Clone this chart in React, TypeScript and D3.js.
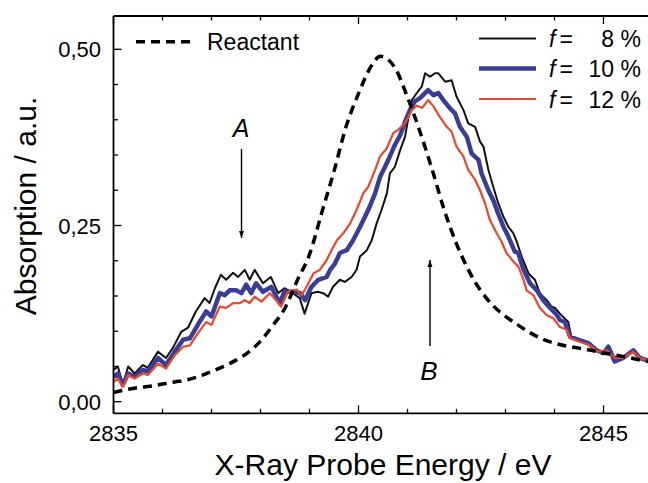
import React from "react";
import * as d3 from "d3";

// ---------- data ----------
const reactantE = [2835.0,2835.25,2835.5,2835.75,2836.0,2836.25,2836.5,2836.75,2837.0,2837.25,2837.5,2837.75,2838.0,2838.25,2838.5,2838.75,2839.0,2839.25,2839.5,2839.75,2840.0,2840.25,2840.45,2840.75,2841.0,2841.25,2841.5,2841.75,2842.0,2842.25,2842.5,2842.75,2843.0,2843.25,2843.5,2843.75,2844.0,2844.25,2844.5,2844.75,2845.0,2845.25,2845.5,2845.75,2846.0];
const reactantY = [0.013,0.017,0.020,0.022,0.025,0.028,0.031,0.036,0.043,0.050,0.059,0.070,0.086,0.108,0.133,0.172,0.209,0.268,0.327,0.391,0.437,0.475,0.490,0.473,0.432,0.384,0.330,0.272,0.224,0.186,0.157,0.136,0.121,0.109,0.098,0.089,0.083,0.079,0.076,0.073,0.069,0.066,0.063,0.059,0.056];

const f8E = [2835.0,2835.09,2835.19,2835.30,2835.43,2835.60,2835.70,2835.91,2836.07,2836.21,2836.38,2836.52,2836.68,2836.86,2836.96,2837.07,2837.19,2837.30,2837.44,2837.54,2837.68,2837.78,2837.88,2838.05,2838.21,2838.36,2838.49,2838.62,2838.80,2838.90,2839.04,2839.17,2839.28,2839.38,2839.48,2839.62,2839.72,2839.86,2839.96,2840.03,2840.17,2840.27,2840.37,2840.47,2840.58,2840.64,2840.74,2840.85,2840.95,2841.02,2841.09,2841.19,2841.29,2841.36,2841.46,2841.56,2841.63,2841.77,2841.90,2842.00,2842.14,2842.24,2842.38,2842.48,2842.55,2842.65,2842.75,2842.85,2842.96,2843.06,2843.16,2843.23,2843.33,2843.47,2843.60,2843.70,2843.84,2843.94,2844.01,2844.11,2844.21,2844.28,2844.35,2844.52,2844.72,2844.86,2845.00,2845.10,2845.20,2845.40,2845.61,2845.74,2845.88,2846.0];
const f8Y = [0.045,0.050,0.024,0.050,0.040,0.052,0.048,0.071,0.062,0.076,0.099,0.105,0.128,0.147,0.140,0.161,0.180,0.173,0.183,0.177,0.187,0.173,0.187,0.168,0.177,0.154,0.161,0.156,0.147,0.125,0.154,0.156,0.154,0.149,0.163,0.173,0.170,0.177,0.187,0.206,0.215,0.229,0.253,0.272,0.296,0.324,0.333,0.357,0.376,0.404,0.428,0.438,0.447,0.466,0.461,0.466,0.466,0.454,0.456,0.433,0.414,0.395,0.390,0.369,0.362,0.329,0.305,0.282,0.262,0.248,0.239,0.227,0.206,0.182,0.173,0.154,0.144,0.135,0.133,0.125,0.118,0.113,0.090,0.088,0.083,0.073,0.071,0.078,0.064,0.062,0.073,0.062,0.059,0.058];

const f10E = [2835.0,2835.09,2835.19,2835.30,2835.43,2835.60,2835.70,2835.91,2836.07,2836.25,2836.42,2836.56,2836.72,2836.89,2837.00,2837.17,2837.27,2837.37,2837.51,2837.61,2837.71,2837.81,2837.91,2838.05,2838.22,2838.39,2838.49,2838.66,2838.81,2838.91,2839.04,2839.18,2839.35,2839.42,2839.52,2839.62,2839.76,2839.89,2840.03,2840.13,2840.23,2840.34,2840.44,2840.54,2840.64,2840.74,2840.85,2840.95,2841.05,2841.15,2841.26,2841.42,2841.53,2841.63,2841.73,2841.87,2841.97,2842.07,2842.21,2842.31,2842.45,2842.51,2842.65,2842.75,2842.85,2842.96,2843.06,2843.19,2843.26,2843.36,2843.50,2843.64,2843.77,2843.91,2844.04,2844.11,2844.21,2844.32,2844.52,2844.69,2844.86,2845.00,2845.10,2845.23,2845.40,2845.61,2845.74,2845.88,2846.0];
const f10Y = [0.035,0.040,0.024,0.040,0.035,0.045,0.043,0.062,0.052,0.071,0.088,0.090,0.109,0.128,0.121,0.154,0.151,0.158,0.158,0.154,0.166,0.154,0.168,0.156,0.163,0.140,0.156,0.156,0.154,0.144,0.163,0.173,0.177,0.187,0.196,0.211,0.215,0.229,0.248,0.262,0.277,0.296,0.319,0.333,0.348,0.364,0.378,0.397,0.414,0.426,0.431,0.442,0.435,0.438,0.428,0.416,0.409,0.390,0.376,0.352,0.343,0.324,0.300,0.286,0.267,0.248,0.234,0.213,0.211,0.189,0.168,0.158,0.144,0.133,0.124,0.116,0.113,0.092,0.087,0.083,0.073,0.069,0.078,0.057,0.062,0.073,0.062,0.059,0.058];

const f12E = [2835.0,2835.09,2835.19,2835.30,2835.43,2835.60,2835.70,2835.91,2836.07,2836.25,2836.42,2836.56,2836.72,2836.89,2837.00,2837.17,2837.30,2837.44,2837.58,2837.68,2837.78,2837.88,2838.02,2838.19,2838.32,2838.42,2838.56,2838.74,2838.84,2838.94,2839.08,2839.21,2839.35,2839.45,2839.56,2839.69,2839.83,2839.96,2840.10,2840.20,2840.34,2840.44,2840.58,2840.71,2840.81,2840.95,2841.09,2841.19,2841.30,2841.42,2841.53,2841.66,2841.80,2841.90,2842.00,2842.14,2842.24,2842.38,2842.48,2842.58,2842.68,2842.82,2842.92,2843.02,2843.16,2843.26,2843.36,2843.43,2843.57,2843.70,2843.84,2843.98,2844.11,2844.25,2844.32,2844.52,2844.72,2844.89,2845.07,2845.23,2845.40,2845.61,2845.74,2845.88,2846.0];
const f12Y = [0.028,0.033,0.021,0.038,0.033,0.040,0.038,0.054,0.047,0.066,0.078,0.080,0.097,0.113,0.109,0.135,0.133,0.140,0.140,0.144,0.140,0.149,0.142,0.154,0.144,0.135,0.156,0.159,0.151,0.163,0.182,0.187,0.201,0.215,0.229,0.239,0.253,0.272,0.296,0.305,0.329,0.348,0.360,0.381,0.386,0.395,0.414,0.420,0.417,0.428,0.419,0.404,0.390,0.383,0.362,0.348,0.329,0.315,0.300,0.282,0.258,0.239,0.227,0.211,0.199,0.192,0.175,0.158,0.151,0.133,0.123,0.118,0.106,0.102,0.090,0.085,0.080,0.071,0.073,0.062,0.062,0.071,0.062,0.059,0.058];

const xMajorTicks = [2835, 2840, 2845];
const xTickLabels = ["2835", "2840", "2845"];
const xMinorTicks = [2836, 2837, 2838, 2839, 2841, 2842, 2843, 2844, 2846];
const yMajorTicks = [0, 0.25, 0.5];
const yTickLabels = ["0,00", "0,25", "0,50"];
const yMinorTicks = [0.05, 0.1, 0.15, 0.2, 0.3, 0.35, 0.4, 0.45];

const legendLabels = ["8 %", "10 %", "12 %"];

// ---------- layout ----------
const W = 648, H = 483;
const left = 113.5, top = 16, bottom = 413.3, right = 660;
const FONT = "'Liberation Sans', Arial, sans-serif";

const x = d3.scaleLinear().domain([2835, 2846]).range([113.5, 652.5]);
const y = d3.scaleLinear().domain([0, 0.5]).range([401.7, 49.3]);

function pts(es: number[], vs: number[]): [number, number][] {
  return es.map((e, i) => [e, vs[i]] as [number, number]);
}
const noisy = d3.line<[number, number]>().x(d => x(d[0])).y(d => y(d[1])).curve(d3.curveLinear);
const smooth = d3.line<[number, number]>().x(d => x(d[0])).y(d => y(d[1])).curve(d3.curveMonotoneX);

const BLACK = "#111111";
const BLUE = "#3a3d98";
const RED = "#e8482c";

export default function App() {
  const series = [
    { d: pts(f8E, f8Y), color: BLACK, w: 2 },
    { d: pts(f10E, f10Y), color: BLUE, w: 4.5 },
    { d: pts(f12E, f12Y), color: RED, w: 2.2 },
  ];
  const legendY = [38.5, 68.5, 99];
  return (
    <svg width={W} height={H} style={{ position: "fixed", left: 0, top: 0, background: "#fff" }} fontFamily={FONT}>
      <defs>
        <clipPath id="plot">
          <rect x={left} y={top} width={right - left} height={bottom - top} />
        </clipPath>
        <marker id="arr" viewBox="0 0 10 10" refX="10" refY="5" markerWidth="7" markerHeight="10" orient="auto" markerUnits="userSpaceOnUse">
          <path d="M0,1.5 L10,5 L0,8.5 Z" fill="#000" />
        </marker>
      </defs>
      <g clipPath="url(#plot)">
        {series.map((s, i) => (
          <path key={i} d={noisy(s.d) || ""} fill="none" stroke={s.color} strokeWidth={s.w} strokeLinejoin="round" />
        ))}
        <path d={smooth(pts(reactantE, reactantY)) || ""} fill="none" stroke="#000" strokeWidth={3.5} strokeDasharray="9,6" />
      </g>

      {/* frame */}
      <line x1={left} x2={right} y1={top} y2={top} stroke="#000" strokeWidth={1.8} />
      <line x1={left} x2={right} y1={bottom} y2={bottom} stroke="#000" strokeWidth={1.8} />
      <line x1={left} x2={left} y1={top} y2={bottom} stroke="#000" strokeWidth={1.8} />

      {/* x ticks */}
      {xMajorTicks.map((t, i) => (
        <g key={"xM" + i}>
          <line x1={x(t)} x2={x(t)} y1={bottom} y2={bottom - 8} stroke="#000" strokeWidth={1.3} />
          <line x1={x(t)} x2={x(t)} y1={top} y2={top + 8} stroke="#000" strokeWidth={1.3} />
          <text x={x(t)} y={441} fontSize={22} textAnchor="middle">{xTickLabels[i]}</text>
        </g>
      ))}
      {xMinorTicks.map((t, i) => (
        <g key={"xm" + i}>
          <line x1={x(t)} x2={x(t)} y1={bottom} y2={bottom - 4.5} stroke="#000" strokeWidth={1.3} />
          <line x1={x(t)} x2={x(t)} y1={top} y2={top + 4.5} stroke="#000" strokeWidth={1.3} />
        </g>
      ))}

      {/* y ticks */}
      {yMajorTicks.map((t, i) => (
        <g key={"yM" + i}>
          <line x1={left} x2={left + 8} y1={y(t)} y2={y(t)} stroke="#000" strokeWidth={1.3} />
          <text x={101} y={y(t) + 8} fontSize={22} textAnchor="end">{yTickLabels[i]}</text>
        </g>
      ))}
      {yMinorTicks.map((t, i) => (
        <line key={"ym" + i} x1={left} x2={left + 4.5} y1={y(t)} y2={y(t)} stroke="#000" strokeWidth={1.3} />
      ))}

      {/* axis titles */}
      <text x={383} y={475} fontSize={30} textAnchor="middle">X-Ray Probe Energy / eV</text>
      <text transform="translate(36,206) rotate(-90)" fontSize={30} textAnchor="middle">Absorption / a.u.</text>

      {/* legend: reactant */}
      <line x1={136} x2={194} y1={41.7} y2={41.7} stroke="#000" strokeWidth={3.5} strokeDasharray="9,6" />
      <text x={207} y={50} fontSize={23}>Reactant</text>

      {/* legend: series */}
      {series.map((s, i) => (
        <g key={"lg" + i}>
          <line x1={479} x2={536} y1={legendY[i]} y2={legendY[i]} stroke={s.color} strokeWidth={s.w} />
          <text x={549} y={legendY[i] + 8.5} fontSize={23}>
            <tspan fontStyle="italic">f</tspan>
            <tspan dx={4}>=</tspan>
          </text>
          <text x={641} y={legendY[i] + 8.5} fontSize={23} textAnchor="end">{legendLabels[i]}</text>
        </g>
      ))}

      {/* annotations */}
      <text x={241} y={137} fontSize={25} fontStyle="italic" textAnchor="middle">A</text>
      <line x1={241.5} x2={241.5} y1={149} y2={238} stroke="#000" strokeWidth={1.4} markerEnd="url(#arr)" />
      <text x={429} y={380} fontSize={26} fontStyle="italic" textAnchor="middle">B</text>
      <line x1={430} x2={430} y1={346} y2={260} stroke="#000" strokeWidth={1.4} markerEnd="url(#arr)" />
    </svg>
  );
}
